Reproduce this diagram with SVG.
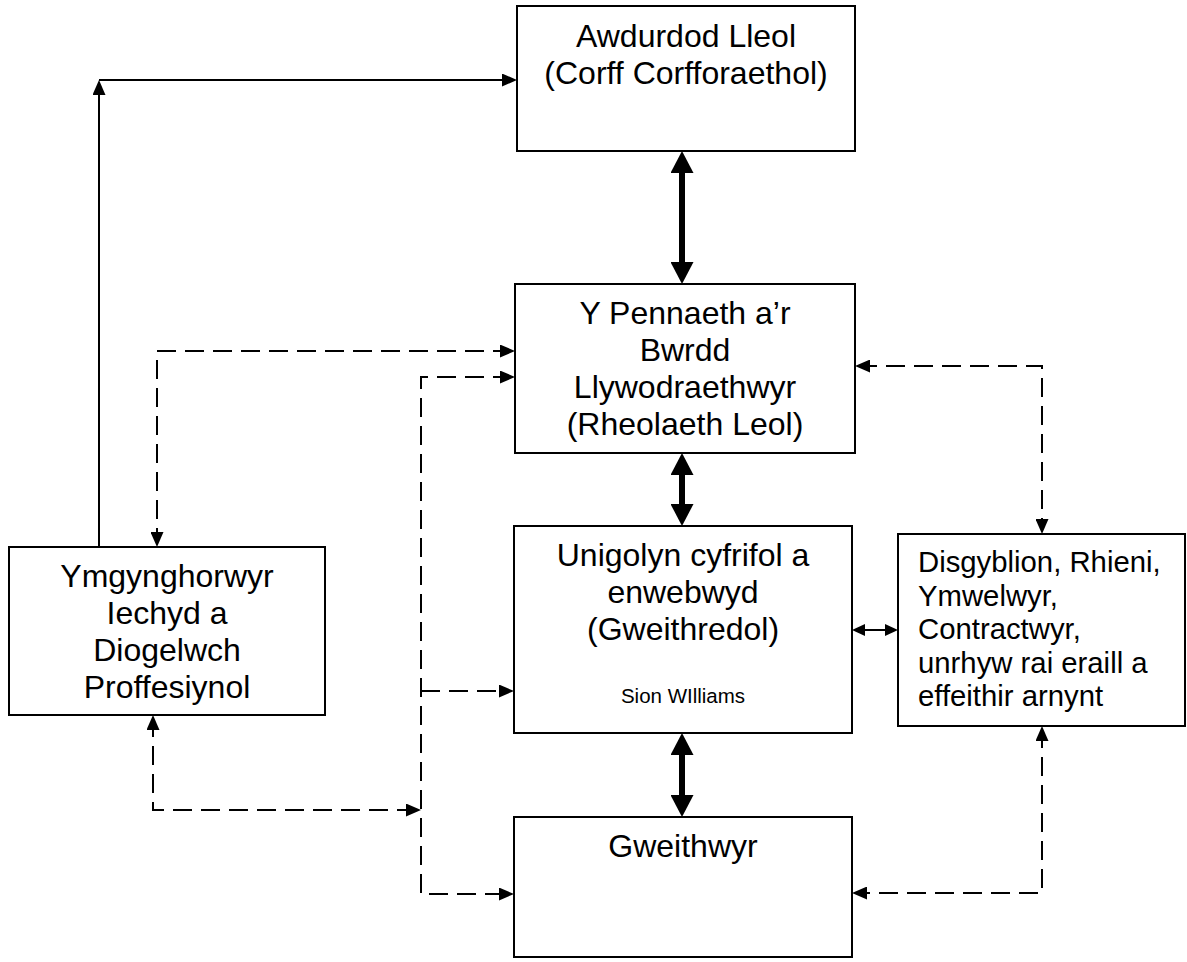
<svg xmlns="http://www.w3.org/2000/svg" width="1187" height="962" viewBox="0 0 1187 962">
<style>
.box{fill:#fff;stroke:#000;stroke-width:2}
.t{font-family:"Liberation Sans",Arial,sans-serif;font-size:32px;fill:#000;text-anchor:middle}
.tl{font-family:"Liberation Sans",Arial,sans-serif;font-size:29.3px;fill:#000}
.ts{font-family:"Liberation Sans",Arial,sans-serif;font-size:20.5px;fill:#000;text-anchor:middle}
.solid{fill:none;stroke:#000;stroke-width:2}
.dash{fill:none;stroke:#000;stroke-width:2;stroke-dasharray:19 9}
.thick{fill:none;stroke:#000;stroke-width:6}
</style>
<defs>
<marker id="ah" markerUnits="userSpaceOnUse" markerWidth="15" markerHeight="13" refX="12" refY="6.5" orient="auto-start-reverse" viewBox="0 0 15 13">
<path d="M0,0 L15,6.5 L0,13 z" fill="#000"/>
</marker>
<marker id="ahs" markerUnits="userSpaceOnUse" markerWidth="13" markerHeight="12" refX="10" refY="6" orient="auto-start-reverse" viewBox="0 0 13 12">
<path d="M0,0 L13,6 L0,12 z" fill="#000"/>
</marker>
<marker id="aht" markerUnits="userSpaceOnUse" markerWidth="22" markerHeight="23" refX="12" refY="11.5" orient="auto-start-reverse" viewBox="0 0 22 23">
<path d="M0,0 L22,11.5 L0,23 z" fill="#000"/>
</marker>
</defs>
<g id="connectors">
<path class="solid" d="M99,547 V83" marker-end="url(#ah)"/>
<path class="solid" d="M99,80 H514" marker-end="url(#ah)"/>
<path class="thick" d="M682,161 V274" marker-start="url(#aht)" marker-end="url(#aht)"/>
<path class="thick" d="M682,463 V516" marker-start="url(#aht)" marker-end="url(#aht)"/>
<path class="thick" d="M682,743 V807" marker-start="url(#aht)" marker-end="url(#aht)"/>
<path class="dash" d="M512,351 H157 V544" marker-start="url(#ah)" marker-end="url(#ah)"/>
<path class="dash" d="M512,377 H421 V894 H511" marker-start="url(#ah)" marker-end="url(#ah)"/>
<path class="dash" d="M421,691 H511" marker-end="url(#ah)"/>
<path class="dash" d="M153,718 V810 H418" marker-start="url(#ah)" marker-end="url(#ah)"/>
<path class="dash" d="M858,366 H1042 V531" marker-start="url(#ah)" marker-end="url(#ah)"/>
<path class="dash" d="M1042,729 V893 H855" marker-start="url(#ah)" marker-end="url(#ah)"/>
<path class="solid" d="M855,630 H895" marker-start="url(#ahs)" marker-end="url(#ahs)"/>
</g>
<g id="awdurdod">
<rect class="box" x="517" y="6" width="338" height="145"/>
<text class="t" x="686" y="47">Awdurdod Lleol</text>
<text class="t" x="686" y="84">(Corff Corfforaethol)</text>
</g>
<g id="pennaeth">
<rect class="box" x="515" y="284" width="340" height="169"/>
<text class="t" x="685" y="324">Y Pennaeth a’r</text>
<text class="t" x="685" y="361">Bwrdd</text>
<text class="t" x="685" y="398">Llywodraethwyr</text>
<text class="t" x="685" y="435">(Rheolaeth Leol)</text>
</g>
<g id="unigolyn">
<rect class="box" x="514" y="526" width="338" height="207"/>
<text class="t" x="683" y="566">Unigolyn cyfrifol a</text>
<text class="t" x="683" y="603">enwebwyd</text>
<text class="t" x="683" y="640">(Gweithredol)</text>
<text class="ts" x="683" y="703">Sion WIlliams</text>
</g>
<g id="gweithwyr">
<rect class="box" x="514" y="817" width="338" height="140"/>
<text class="t" x="683" y="857">Gweithwyr</text>
</g>
<g id="ymgynghorwyr">
<rect class="box" x="9" y="547" width="316" height="168"/>
<text class="t" x="167" y="587">Ymgynghorwyr</text>
<text class="t" x="167" y="624">Iechyd a</text>
<text class="t" x="167" y="661">Diogelwch</text>
<text class="t" x="167" y="698">Proffesiynol</text>
</g>
<g id="disgyblion">
<rect class="box" x="898" y="534" width="287" height="192"/>
<text class="tl" x="918" y="572">Disgyblion, Rhieni,</text>
<text class="tl" x="918" y="605.5">Ymwelwyr,</text>
<text class="tl" x="918" y="639">Contractwyr,</text>
<text class="tl" x="918" y="672.5">unrhyw rai eraill a</text>
<text class="tl" x="918" y="706">effeithir arnynt</text>
</g>
</svg>
